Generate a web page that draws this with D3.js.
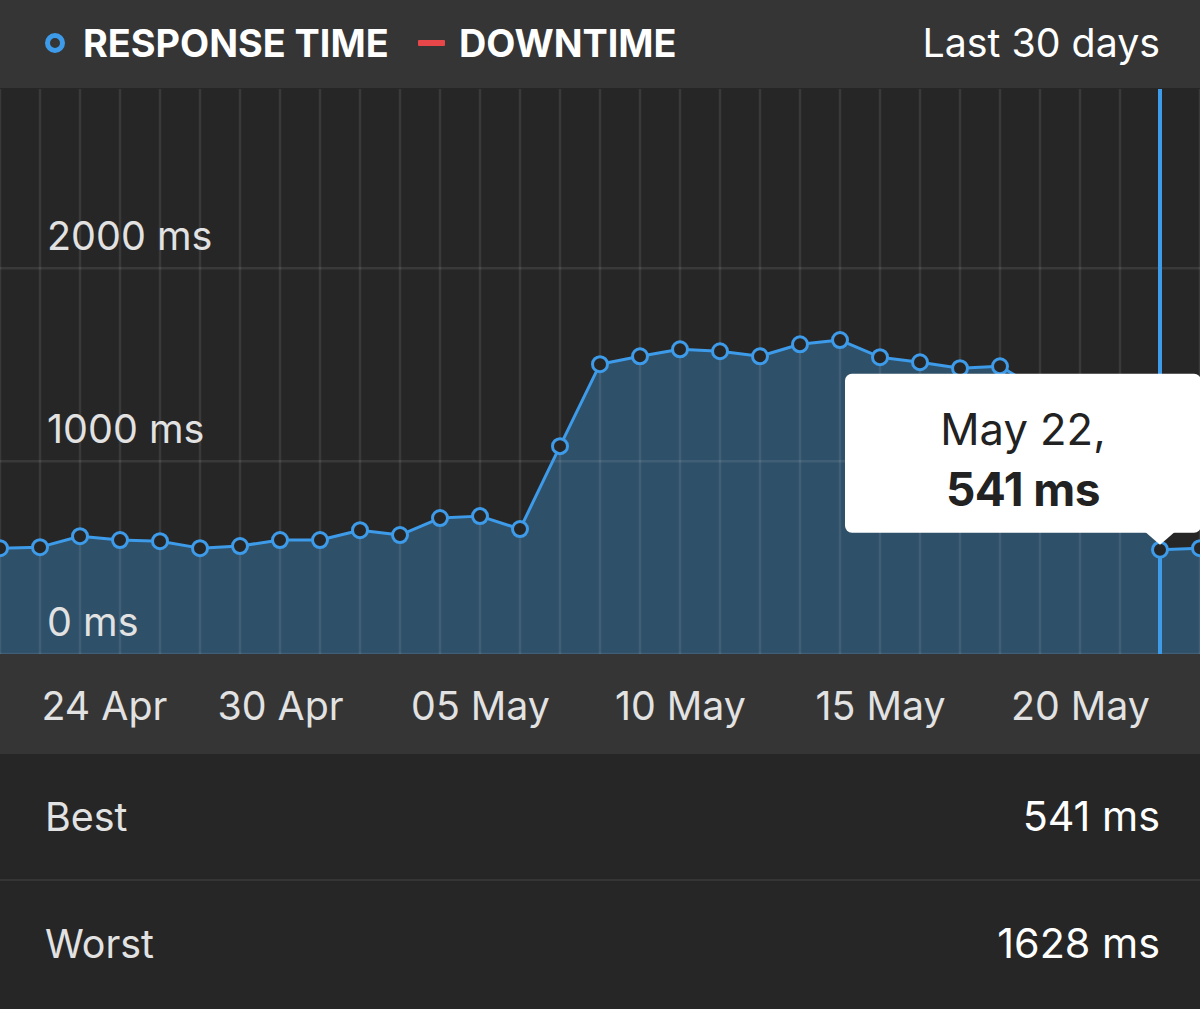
<!DOCTYPE html>
<html>
<head>
<meta charset="utf-8">
<script src="https://cdn.jsdelivr.net/npm/d3@7"></script>
<style>
  html, body { margin: 0; padding: 0; background: #262626; }
  svg { display: block; font-family: Inter, "Noto Sans", sans-serif; }
</style>
</head>
<body>
<svg id="chart"></svg>
<script>
// daily response time, Apr 23 -> May 23
const days = [
    "2019-04-23", "2019-04-24", "2019-04-25", "2019-04-26", "2019-04-27", "2019-04-28",
    "2019-04-29", "2019-04-30", "2019-05-01", "2019-05-02", "2019-05-03", "2019-05-04",
    "2019-05-05", "2019-05-06", "2019-05-07", "2019-05-08", "2019-05-09", "2019-05-10",
    "2019-05-11", "2019-05-12", "2019-05-13", "2019-05-14", "2019-05-15", "2019-05-16",
    "2019-05-17", "2019-05-18", "2019-05-19", "2019-05-20", "2019-05-21", "2019-05-22",
    "2019-05-23"
];
const responseMs = [
    549, 554, 611, 591, 585, 549,
    560, 591, 591, 642, 617, 705,
    715, 648, 1078, 1503, 1544, 1580,
    1570, 1544, 1606, 1628, 1539, 1513,
    1482, 1492, 1370, 1380, 1350, 541,
    549
];
const yTicks = [0, 1000, 2000];
const xTicks = ["2019-04-24", "2019-04-30", "2019-05-05", "2019-05-10", "2019-05-15", "2019-05-20"];
const hoverDay = "2019-05-22";
const stats = [["Best", "541 ms"], ["Worst", "1628 ms"]];

window.onload = () => {
    const W = 1200, H = 1009;
    const parse = d3.timeParse("%Y-%m-%d");
    let data = days.map((d, i) => ({ date: parse(d), ms: responseMs[i] }));

    let svg = d3.select("#chart").attr("width", W).attr("height", H);

    // bands
    const headerH = 88, plotTop = 89, plotBottom = 654, axisBottom = 754;
    svg.append("rect").attr("width", W).attr("height", H).attr("fill", "#262626");
    svg.append("rect").attr("width", W).attr("height", headerH).attr("fill", "#353535");
    svg.append("rect").attr("y", plotBottom).attr("width", W).attr("height", axisBottom - plotBottom).attr("fill", "#353535");

    let x = d3.scaleTime()
        .domain([parse(days[0]), parse(days[days.length - 1])])
        .range([0, W]);
    let y = d3.scaleLinear()
        .domain([0, 2930])
        .range([plotBottom, plotTop]);

    let plot = svg.append("g");
    plot.append("clipPath").attr("id", "clip")
        .append("rect").attr("x", 0).attr("y", plotTop).attr("width", W).attr("height", plotBottom - plotTop);

    let area = d3.area()
        .x(d => x(d.date))
        .y0(y(0))
        .y1(d => y(d.ms));
    let line = d3.line()
        .x(d => x(d.date))
        .y(d => y(d.ms));

    let inner = plot.append("g").attr("clip-path", "url(#clip)");

    inner.append("path")
        .datum(data)
        .attr("fill", "#2e5069")
        .attr("d", area);

    // grid on top of the area
    inner.append("g")
        .selectAll("line")
        .data(data)
        .join("line")
        .attr("x1", d => x(d.date)).attr("x2", d => x(d.date))
        .attr("y1", plotTop).attr("y2", plotBottom)
        .attr("stroke", "rgba(255,255,255,0.09)")
        .attr("stroke-width", 2.5);

    inner.append("g")
        .selectAll("line")
        .data(yTicks)
        .join("line")
        .attr("x1", 0).attr("x2", W)
        .attr("y1", d => y(d)).attr("y2", d => y(d))
        .attr("stroke", "rgba(255,255,255,0.09)")
        .attr("stroke-width", 2.5);

    inner.append("g")
        .selectAll("text")
        .data(yTicks)
        .join("text")
        .attr("x", 47)
        .attr("y", d => y(d) - 18)
        .attr("fill", "#e2e2e2")
        .attr("font-size", 39.5)
        .text(d => d + " ms");

    // hover rule
    inner.append("line")
        .attr("x1", x(parse(hoverDay))).attr("x2", x(parse(hoverDay)))
        .attr("y1", plotTop).attr("y2", plotBottom)
        .attr("stroke", "#3d9be9")
        .attr("stroke-width", 4);

    inner.append("path")
        .datum(data)
        .attr("fill", "none")
        .attr("stroke", "#3d9be9")
        .attr("stroke-width", 3)
        .attr("stroke-linejoin", "round")
        .attr("d", line);

    inner.append("g")
        .selectAll("circle")
        .data(data)
        .join("circle")
        .attr("cx", d => x(d.date))
        .attr("cy", d => y(d.ms))
        .attr("r", 7.5)
        .attr("fill", "#262626")
        .attr("stroke", "#3d9be9")
        .attr("stroke-width", 3);

    // tooltip
    let hover = data.find(d => +d.date === +parse(hoverDay));
    let hx = x(hover.date), hy = y(hover.ms);
    let tipW = 356, tipH = 159, tipR = 7;
    let tipX = W + 1 - tipW, tipY = hy - 17 - tipH;
    let tip = plot.append("g");
    tip.append("rect")
        .attr("x", tipX).attr("y", tipY)
        .attr("width", tipW).attr("height", tipH)
        .attr("rx", tipR)
        .attr("fill", "#ffffff");
    tip.append("path")
        .attr("d", `M${hx - 15},${tipY + tipH - 1} L${hx},${hy - 5} L${hx + 15},${tipY + tipH - 1} Z`)
        .attr("fill", "#ffffff");
    tip.append("text")
        .attr("x", tipX + 178).attr("y", tipY + 71)
        .attr("text-anchor", "middle")
        .attr("fill", "#222")
        .attr("font-size", 43.5)
        .text(d3.timeFormat("%b %-d,")(hover.date));
    tip.append("text")
        .attr("x", tipX + 178).attr("y", tipY + 132)
        .attr("text-anchor", "middle")
        .attr("fill", "#222")
        .attr("font-size", 46)
        .attr("font-weight", "bold")
        .attr("letter-spacing", -0.5)
        .text(hover.ms + " ms");

    // x axis
    let xAxis = svg.append("g")
        .attr("transform", "translate(0," + plotBottom + ")")
        .call(d3.axisBottom(x)
            .tickValues(xTicks.map(parse))
            .tickFormat(d3.timeFormat("%d %b"))
            .tickSize(0));
    xAxis.select(".domain").remove();
    xAxis.selectAll("text")
        .attr("font-family", "Inter, sans-serif")
        .attr("font-size", 39.3)
        .attr("fill", "#e2e2e2")
        .attr("dy", 0)
        .attr("y", 66)
        .each(function () {
            let w = this.getComputedTextLength();
            let tx = +this.parentNode.getAttribute("transform").match(/translate\(([\d.]+)/)[1];
            if (tx - w / 2 < 2) d3.select(this).attr("text-anchor", "start").attr("x", 1);
        });

    // legend
    let legend = svg.append("g");
    legend.append("circle")
        .attr("cx", 55).attr("cy", 43).attr("r", 7.5)
        .attr("fill", "none")
        .attr("stroke", "#3d9be9")
        .attr("stroke-width", 5);
    legend.append("text")
        .attr("x", 83).attr("y", 57)
        .attr("fill", "#fff")
        .attr("font-size", 37.8)
        .attr("font-weight", "bold")
        .text("RESPONSE TIME");
    legend.append("rect")
        .attr("x", 418).attr("y", 40)
        .attr("width", 27).attr("height", 6)
        .attr("rx", 1)
        .attr("fill", "#e8474a");
    legend.append("text")
        .attr("x", 459).attr("y", 57)
        .attr("fill", "#fff")
        .attr("font-size", 37.8)
        .attr("font-weight", "bold")
        .text("DOWNTIME");
    svg.append("text")
        .attr("x", 1160).attr("y", 57)
        .attr("text-anchor", "end")
        .attr("fill", "#fff")
        .attr("font-size", 39.3)
        .text("Last 30 days");

    // stats rows
    let rowH = 127;
    let rows = svg.append("g")
        .selectAll("g")
        .data(stats)
        .join("g")
        .attr("transform", (d, i) => "translate(0," + (axisBottom + i * rowH) + ")");
    rows.append("text")
        .attr("x", 45).attr("y", 77)
        .attr("fill", "#e2e2e2")
        .attr("font-size", 39.4)
        .text(d => d[0]);
    rows.append("text")
        .attr("x", 1160).attr("y", 77)
        .attr("text-anchor", "end")
        .attr("fill", "#fff")
        .attr("font-size", 41.3)
        .text(d => d[1]);
    svg.append("line")
        .attr("x1", 0).attr("x2", W)
        .attr("y1", axisBottom + rowH - 1).attr("y2", axisBottom + rowH - 1)
        .attr("stroke", "#353535")
        .attr("stroke-width", 2);
}
</script>
</body>
</html>
